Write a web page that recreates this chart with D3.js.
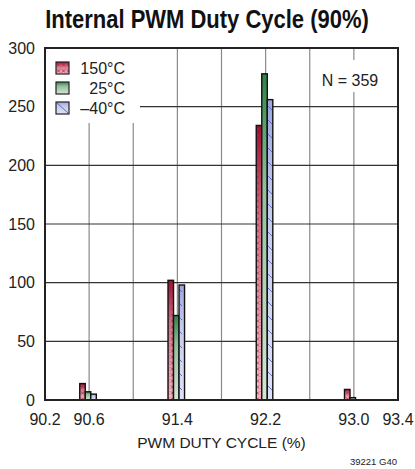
<!DOCTYPE html>
<html lang="en">
<head>
<meta charset="utf-8">
<title>Internal PWM Duty Cycle (90%)</title>
<script src="https://cdn.jsdelivr.net/npm/d3@7"></script>
<style>
  body { margin: 0; background: #fff; }
  text { font-family: "Liberation Sans", Arial, sans-serif; fill: #222; }
</style>
</head>
<body>
<div id="wrapper"></div>
<script>
// bins (duty cycle %) and counts per temperature
const bins = [90.6, 91.4, 92.2, 93.0]
const seriesNames = ["150°C", "25°C", "–40°C"]
const counts150 = [14, 102, 234, 9]
const counts25 = [7, 72, 278, 2]
const countsM40 = [5, 98, 256, 0]
const xTicks = [90.2, 90.6, 91.4, 92.2, 93.0, 93.4]
const xGrid = [90.6, 91.0, 91.4, 91.8, 92.2, 92.6, 93.0]
const yTicks = [0, 50, 100, 150, 200, 250, 300]

const width = 415, height = 469
const margin = {top: 48, right: 17, bottom: 69, left: 45}
const innerW = width - margin.left - margin.right
const innerH = height - margin.top - margin.bottom

const svg = d3.select("#wrapper").append("svg")
  .attr("width", width).attr("height", height)

const defs = svg.append("defs")
const looks = [
  {id: "red", top: "#9e0b34", bottom: "#f2b8c4", mark: "x", markColor: "#c0203c"},
  {id: "green", top: "#2f8446", bottom: "#d4e6d4", mark: null},
  {id: "blue", top: "#9da6da", bottom: "#dfe2f4", mark: "\\", markColor: "#4a5cc8"}
]
looks.forEach(l => {
  const g = defs.append("linearGradient").attr("id", "grad-" + l.id)
    .attr("x1", 0).attr("y1", 0).attr("x2", 0).attr("y2", 1)
  g.append("stop").attr("offset", "0%").attr("stop-color", l.top)
  g.append("stop").attr("offset", "35%").attr("stop-color", d3.interpolateRgb(l.top, l.bottom)(0.6))
  g.append("stop").attr("offset", "100%").attr("stop-color", l.bottom)
  if (l.mark === "x") {
    const p = defs.append("pattern").attr("id", "pat-" + l.id)
      .attr("patternUnits", "userSpaceOnUse").attr("width", 5).attr("height", 6)
    p.append("path").attr("d", "M1,1.5 L4,4.5 M4,1.5 L1,4.5")
      .attr("stroke", l.markColor).attr("stroke-width", 0.8).attr("fill", "none")
  } else if (l.mark) {
    const p = defs.append("pattern").attr("id", "pat-" + l.id)
      .attr("patternUnits", "userSpaceOnUse").attr("width", 6).attr("height", 14)
    p.append("path").attr("d", "M1,2 L5,6")
      .attr("stroke", l.markColor).attr("stroke-width", 0.8).attr("fill", "none")
  }
})

const x = d3.scaleLinear().domain([90.2, 93.4]).range([0, innerW])
const y = d3.scaleLinear().domain([0, 300]).range([innerH, 0])

const bounds = svg.append("g").attr("transform", `translate(${margin.left},${margin.top})`)

// grid
bounds.append("g").selectAll("line").data(xGrid).join("line")
  .attr("x1", d => x(d)).attr("x2", d => x(d))
  .attr("y1", 0).attr("y2", innerH)
  .attr("stroke", "#8a8a8a").attr("stroke-width", 1.2)
bounds.append("g").selectAll("line").data(yTicks.slice(1, -1)).join("line")
  .attr("x1", 0).attr("x2", innerW)
  .attr("y1", d => y(d)).attr("y2", d => y(d))
  .attr("stroke", "#333").attr("stroke-width", 1.2)

// white boxes behind legend and N label
bounds.append("rect").attr("x", 0).attr("y", 0).attr("width", 95).attr("height", 75).attr("fill", "#fff")
bounds.append("rect").attr("x", 272).attr("y", 12).attr("width", 70).attr("height", 32).attr("fill", "#fff")

// bars
const barW = 0.05
const series = [counts150, counts25, countsM40]
series.forEach((vals, si) => {
  const l = looks[si]
  const data = bins.map((b, i) => ({b, v: vals[i]})).filter(d => d.v > 0)
  const g = bounds.append("g")
  const x0 = d => x(d.b - 0.085 + si * barW)
  g.selectAll("rect.fill").data(data).join("rect").attr("class", "fill")
    .attr("x", x0).attr("width", x(90.2 + barW) - x(90.2))
    .attr("y", d => y(d.v)).attr("height", d => innerH - y(d.v))
    .attr("fill", `url(#grad-${l.id})`)
  if (l.mark) {
    g.selectAll("rect.pat").data(data).join("rect").attr("class", "pat")
      .attr("x", x0).attr("width", x(90.2 + barW) - x(90.2))
      .attr("y", d => y(d.v)).attr("height", d => innerH - y(d.v))
      .attr("fill", `url(#pat-${l.id})`)
  }
  g.selectAll("rect.edge").data(data).join("rect").attr("class", "edge")
    .attr("x", x0).attr("width", x(90.2 + barW) - x(90.2))
    .attr("y", d => y(d.v)).attr("height", d => innerH - y(d.v))
    .attr("fill", "none").attr("stroke", "#111").attr("stroke-width", 1.4)
})

// frame
bounds.append("rect").attr("width", innerW).attr("height", innerH)
  .attr("fill", "none").attr("stroke", "#222").attr("stroke-width", 2)

// axes labels
bounds.append("g").selectAll("text").data(yTicks).join("text")
  .attr("x", -10).attr("y", d => y(d)).attr("dy", "0.35em")
  .attr("text-anchor", "end").style("font-size", "16px")
  .text(d => d)
bounds.append("g").selectAll("text").data(xTicks).join("text")
  .attr("x", d => x(d)).attr("y", innerH + 25)
  .attr("text-anchor", "middle").style("font-size", "16px")
  .text(d => d3.format(".1f")(d))

svg.append("text").attr("x", margin.left + innerW / 2).attr("y", 448)
  .attr("text-anchor", "middle").style("font-size", "15.5px")
  .text("PWM DUTY CYCLE (%)")
svg.append("text").attr("x", 397).attr("y", 465)
  .attr("text-anchor", "end").style("font-size", "9.5px")
  .text("39221 G40")
svg.append("text").attr("transform", "translate(207,28) scale(1,1.15)")
  .attr("text-anchor", "middle").style("font-size", "22px").style("font-weight", "bold")
  .style("fill", "#111")
  .text("Internal PWM Duty Cycle (90%)")

// legend
const legend = bounds.append("g").attr("transform", "translate(11,14)")
seriesNames.forEach((name, i) => {
  const l = looks[i]
  const row = legend.append("g").attr("transform", `translate(0,${i * 20})`)
  row.append("rect").attr("width", 13).attr("height", 12).attr("fill", `url(#grad-${l.id})`)
  if (l.mark === "x") row.append("rect").attr("width", 13).attr("height", 12).attr("fill", `url(#pat-${l.id})`)
  if (l.mark === "\\") row.append("line").attr("x1", 1).attr("y1", 1).attr("x2", 12).attr("y2", 11)
    .attr("stroke", l.markColor).attr("stroke-width", 0.9)
  row.append("rect").attr("width", 13).attr("height", 12)
    .attr("fill", "none").attr("stroke", "#222").attr("stroke-width", 1.2)
  row.append("text").attr("x", 69).attr("y", 6.5).attr("dy", "0.35em")
    .attr("text-anchor", "end").style("font-size", "16px").text(name)
})

bounds.append("text").attr("x", 305).attr("y", 38)
  .attr("text-anchor", "middle").style("font-size", "16px")
  .text("N = 359")
</script>
</body>
</html>
